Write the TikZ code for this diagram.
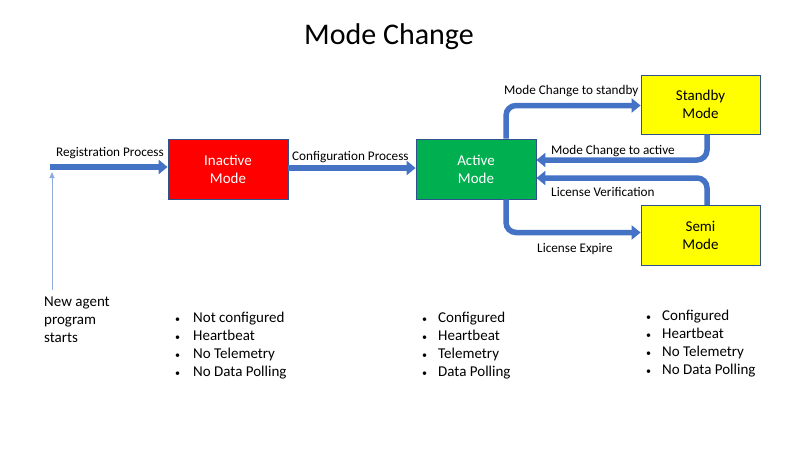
\documentclass[tikz,border=0pt]{standalone}
\usepackage{fontspec}
\setmainfont{Carlito}
\usetikzlibrary{arrows.meta,calc}
\definecolor{arrowblue}{HTML}{4472C4}
\definecolor{edgeblue}{HTML}{2F528F}
\definecolor{thinblue}{HTML}{8FAADC}
\definecolor{modered}{HTML}{FF0000}
\definecolor{modegreen}{HTML}{00B050}
\definecolor{modeyellow}{HTML}{FFFF00}
\newcommand{\mybul}{\makebox[5pt][c]{\raisebox{0.5pt}{\fontsize{10}{10}\selectfont\textbullet}}}
\tikzset{
  modebox/.style={draw=edgeblue, line width=0.8pt, minimum width=120pt, minimum height=60pt,
    align=center, font=\fontsize{15}{18}\selectfont, inner sep=0pt},
  flow/.style={draw=arrowblue, line width=5.5pt, rounded corners=10pt,
    -{Triangle[length=9pt,width=14pt]}},
  flowlabel/.style={font=\fontsize{13.2}{15}\selectfont, inner sep=0pt},
  bullets/.style={font=\fontsize{15}{18}\selectfont, align=left, inner sep=0pt, anchor=north west},
}
\begin{document}
\begin{tikzpicture}[x=1pt,y=-1pt]
\useasboundingbox (0,0) rectangle (800,450);
\node[font=\fontsize{30}{34}\selectfont] (title) at (389,37) {Mode Change};

\node[modebox, fill=modered, text=white] (inact) at (228,169) {Inactive\\Mode};
\node[modebox, fill=modegreen, text=white] (act) at (476,169) {Active\\Mode};
\node[modebox, fill=modeyellow, minimum width=119pt, minimum height=59pt] (stby) at (700.5,104.5) {Standby\\Mode};
\node[modebox, fill=modeyellow, minimum width=119pt, minimum height=60pt] (semi) at (700.5,235.5) {Semi\\Mode};

\coordinate (regstart) at (50,167);
\draw[flow] (regstart) -- (regstart -| inact.west);
\draw[flow] ([yshift=1pt]inact.east) -- ([yshift=1pt]act.west);
\draw[flow] ([xshift=30pt]act.north) |- ([yshift=-1pt]stby.west);
\draw[flow] ([xshift=6.5pt]stby.south) |- ([yshift=9pt]act.east);
\draw[flow] ([xshift=6.5pt]semi.north) |- ([yshift=-9pt]act.east);
\draw[flow] ([xshift=30pt]act.south) |- ([yshift=3pt]semi.west);

\coordinate (agentstart) at (52,290);
\draw[thinblue, line width=0.8pt, -{Triangle[length=6pt,width=5pt]}] (agentstart) -- (52,172);

\node[flowlabel, anchor=west] (lreg) at (56,153) {Registration Process};
\node[flowlabel, anchor=west] (lconf) at (292,157) {Configuration Process};
\node[flowlabel, anchor=west] (lstby) at (504,91) {Mode Change to standby};
\node[flowlabel, anchor=west] (lact) at (551,151) {Mode Change to active};
\node[flowlabel, anchor=west] (lver) at (551,192) {License Verification};
\node[flowlabel, anchor=west] (lexp) at (537,249) {License Expire};

\node[font=\fontsize{15}{18}\selectfont, align=left, inner sep=0pt, anchor=north west] (agent) at (44,297) {New agent\\program\\starts};

\node[bullets] (b1) at (175,312) {\mybul\hspace{13pt}Not configured\\\mybul\hspace{13pt}Heartbeat\\\mybul\hspace{13pt}No Telemetry\\\mybul\hspace{13pt}No Data Polling};
\node[bullets] (b2) at (422,312) {\mybul\hspace{11pt}Configured\\\mybul\hspace{11pt}Heartbeat\\\mybul\hspace{11pt}Telemetry\\\mybul\hspace{11pt}Data Polling};
\node[bullets] (b3) at (646,310) {\mybul\hspace{11pt}Configured\\\mybul\hspace{11pt}Heartbeat\\\mybul\hspace{11pt}No Telemetry\\\mybul\hspace{11pt}No Data Polling};
\end{tikzpicture}
\end{document}
